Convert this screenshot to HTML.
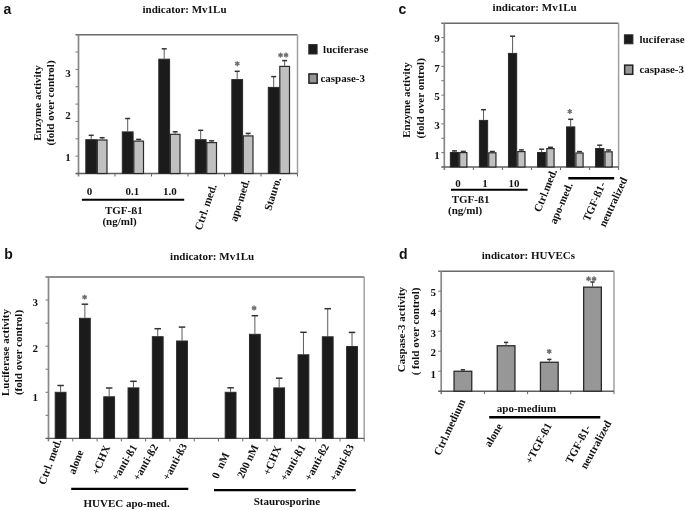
<!DOCTYPE html>
<html><head><meta charset="utf-8"><style>
html,body{margin:0;padding:0;background:#fff;width:685px;height:510px;overflow:hidden}
svg{display:block;filter:blur(0.4px)}

</style></head><body>
<svg width="685" height="510" viewBox="0 0 685 510" shape-rendering="auto">
<rect width="685" height="510" fill="#fff"/>
<line x1="75.50" y1="34.70" x2="297.50" y2="34.70" stroke="#6a6a6a" stroke-width="1.4"/>
<line x1="297.50" y1="34.70" x2="297.50" y2="173.50" stroke="#a0a0a0" stroke-width="1.5"/>
<line x1="78.50" y1="34.70" x2="78.50" y2="176.50" stroke="#888" stroke-width="1.7"/>
<line x1="75.50" y1="173.50" x2="297.50" y2="173.50" stroke="#5e5e5e" stroke-width="1.4"/>
<line x1="75.50" y1="52.05" x2="78.50" y2="52.05" stroke="#777" stroke-width="1"/>
<line x1="75.50" y1="69.40" x2="78.50" y2="69.40" stroke="#777" stroke-width="1"/>
<line x1="75.50" y1="86.75" x2="78.50" y2="86.75" stroke="#777" stroke-width="1"/>
<line x1="75.50" y1="104.10" x2="78.50" y2="104.10" stroke="#777" stroke-width="1"/>
<line x1="75.50" y1="121.45" x2="78.50" y2="121.45" stroke="#777" stroke-width="1"/>
<line x1="75.50" y1="138.80" x2="78.50" y2="138.80" stroke="#777" stroke-width="1"/>
<line x1="75.50" y1="156.15" x2="78.50" y2="156.15" stroke="#777" stroke-width="1"/>
<line x1="115.00" y1="173.50" x2="115.00" y2="176.50" stroke="#666" stroke-width="1"/>
<line x1="151.50" y1="173.50" x2="151.50" y2="176.50" stroke="#666" stroke-width="1"/>
<line x1="188.00" y1="173.50" x2="188.00" y2="176.50" stroke="#666" stroke-width="1"/>
<line x1="224.50" y1="173.50" x2="224.50" y2="176.50" stroke="#666" stroke-width="1"/>
<line x1="261.00" y1="173.50" x2="261.00" y2="176.50" stroke="#666" stroke-width="1"/>
<line x1="297.50" y1="173.50" x2="297.50" y2="176.50" stroke="#666" stroke-width="1"/>
<line x1="91.20" y1="135.30" x2="91.20" y2="139.20" stroke="#5a5a5a" stroke-width="1.0"/>
<line x1="88.70" y1="135.30" x2="93.70" y2="135.30" stroke="#333" stroke-width="1.5"/>
<line x1="102.15" y1="137.70" x2="102.15" y2="139.40" stroke="#5a5a5a" stroke-width="1.0"/>
<line x1="99.65" y1="137.70" x2="104.65" y2="137.70" stroke="#333" stroke-width="1.5"/>
<rect x="85.80" y="139.70" width="10.80" height="33.80" fill="#1b1b1b" stroke="#2a2a2a" stroke-width="1"/>
<rect x="97.30" y="140.00" width="9.70" height="33.50" fill="#c0c0c0" stroke="#2a2a2a" stroke-width="1.2"/>
<line x1="127.70" y1="118.50" x2="127.70" y2="131.40" stroke="#5a5a5a" stroke-width="1.0"/>
<line x1="125.20" y1="118.50" x2="130.20" y2="118.50" stroke="#333" stroke-width="1.5"/>
<line x1="138.65" y1="139.40" x2="138.65" y2="140.50" stroke="#5a5a5a" stroke-width="1.0"/>
<line x1="136.15" y1="139.40" x2="141.15" y2="139.40" stroke="#333" stroke-width="1.5"/>
<rect x="122.30" y="131.90" width="10.80" height="41.60" fill="#1b1b1b" stroke="#2a2a2a" stroke-width="1"/>
<rect x="133.80" y="141.10" width="9.70" height="32.40" fill="#c0c0c0" stroke="#2a2a2a" stroke-width="1.2"/>
<line x1="164.20" y1="48.80" x2="164.20" y2="58.70" stroke="#5a5a5a" stroke-width="1.0"/>
<line x1="161.70" y1="48.80" x2="166.70" y2="48.80" stroke="#333" stroke-width="1.5"/>
<line x1="175.15" y1="131.80" x2="175.15" y2="133.70" stroke="#5a5a5a" stroke-width="1.0"/>
<line x1="172.65" y1="131.80" x2="177.65" y2="131.80" stroke="#333" stroke-width="1.5"/>
<rect x="158.80" y="59.20" width="10.80" height="114.30" fill="#1b1b1b" stroke="#2a2a2a" stroke-width="1"/>
<rect x="170.30" y="134.30" width="9.70" height="39.20" fill="#c0c0c0" stroke="#2a2a2a" stroke-width="1.2"/>
<line x1="200.70" y1="130.30" x2="200.70" y2="139.20" stroke="#5a5a5a" stroke-width="1.0"/>
<line x1="198.20" y1="130.30" x2="203.20" y2="130.30" stroke="#333" stroke-width="1.5"/>
<line x1="211.65" y1="140.80" x2="211.65" y2="142.00" stroke="#5a5a5a" stroke-width="1.0"/>
<line x1="209.15" y1="140.80" x2="214.15" y2="140.80" stroke="#333" stroke-width="1.5"/>
<rect x="195.30" y="139.70" width="10.80" height="33.80" fill="#1b1b1b" stroke="#2a2a2a" stroke-width="1"/>
<rect x="206.80" y="142.60" width="9.70" height="30.90" fill="#c0c0c0" stroke="#2a2a2a" stroke-width="1.2"/>
<line x1="237.20" y1="71.30" x2="237.20" y2="79.10" stroke="#5a5a5a" stroke-width="1.0"/>
<line x1="234.70" y1="71.30" x2="239.70" y2="71.30" stroke="#333" stroke-width="1.5"/>
<line x1="248.15" y1="133.40" x2="248.15" y2="135.30" stroke="#5a5a5a" stroke-width="1.0"/>
<line x1="245.65" y1="133.40" x2="250.65" y2="133.40" stroke="#333" stroke-width="1.5"/>
<rect x="231.80" y="79.60" width="10.80" height="93.90" fill="#1b1b1b" stroke="#2a2a2a" stroke-width="1"/>
<rect x="243.30" y="135.90" width="9.70" height="37.60" fill="#c0c0c0" stroke="#2a2a2a" stroke-width="1.2"/>
<line x1="273.70" y1="76.60" x2="273.70" y2="86.90" stroke="#5a5a5a" stroke-width="1.0"/>
<line x1="271.20" y1="76.60" x2="276.20" y2="76.60" stroke="#333" stroke-width="1.5"/>
<line x1="284.65" y1="60.60" x2="284.65" y2="65.80" stroke="#5a5a5a" stroke-width="1.0"/>
<line x1="282.15" y1="60.60" x2="287.15" y2="60.60" stroke="#333" stroke-width="1.5"/>
<rect x="268.30" y="87.40" width="10.80" height="86.10" fill="#1b1b1b" stroke="#2a2a2a" stroke-width="1"/>
<rect x="279.80" y="66.40" width="9.70" height="107.10" fill="#c0c0c0" stroke="#2a2a2a" stroke-width="1.2"/>
<line x1="237.30" y1="61.20" x2="237.30" y2="66.20" stroke="#6e6e6e" stroke-width="1.4"/>
<line x1="235.13" y1="62.45" x2="239.47" y2="64.95" stroke="#6e6e6e" stroke-width="1.4"/>
<line x1="239.47" y1="62.45" x2="235.13" y2="64.95" stroke="#6e6e6e" stroke-width="1.4"/>
<line x1="280.55" y1="52.60" x2="280.55" y2="57.60" stroke="#6e6e6e" stroke-width="1.4"/>
<line x1="278.38" y1="53.85" x2="282.72" y2="56.35" stroke="#6e6e6e" stroke-width="1.4"/>
<line x1="282.72" y1="53.85" x2="278.38" y2="56.35" stroke="#6e6e6e" stroke-width="1.4"/>
<line x1="286.05" y1="52.60" x2="286.05" y2="57.60" stroke="#6e6e6e" stroke-width="1.4"/>
<line x1="283.88" y1="53.85" x2="288.22" y2="56.35" stroke="#6e6e6e" stroke-width="1.4"/>
<line x1="288.22" y1="53.85" x2="283.88" y2="56.35" stroke="#6e6e6e" stroke-width="1.4"/>
<text x="70.70" y="77.10" text-anchor="end" font-family="Liberation Serif" font-weight="bold" font-size="11" fill="#111">3</text>
<text x="70.70" y="119.20" text-anchor="end" font-family="Liberation Serif" font-weight="bold" font-size="11" fill="#111">2</text>
<text x="70.70" y="160.80" text-anchor="end" font-family="Liberation Serif" font-weight="bold" font-size="11" fill="#111">1</text>
<text x="142.50" y="12.80" text-anchor="start" font-family="Liberation Serif" font-weight="bold" font-size="11" fill="#111">indicator: Mv1Lu</text>
<text x="3.60" y="13.60" text-anchor="start" font-family="Liberation Sans" font-weight="bold" font-size="14" fill="#111">a</text>
<text x="41.10" y="103.00" text-anchor="middle" font-family="Liberation Serif" font-weight="bold" font-size="11" fill="#111" transform="rotate(-90 41.10 103.00)">Enzyme activity</text>
<text x="53.90" y="103.00" text-anchor="middle" font-family="Liberation Serif" font-weight="bold" font-size="11" fill="#111" transform="rotate(-90 53.90 103.00)">(fold over control)</text>
<text x="89.50" y="195.40" text-anchor="middle" font-family="Liberation Serif" font-weight="bold" font-size="11" fill="#111">0</text>
<text x="132.30" y="195.40" text-anchor="middle" font-family="Liberation Serif" font-weight="bold" font-size="11" fill="#111">0.1</text>
<text x="169.90" y="195.40" text-anchor="middle" font-family="Liberation Serif" font-weight="bold" font-size="11" fill="#111">1.0</text>
<line x1="81.90" y1="199.80" x2="184.20" y2="199.80" stroke="#000" stroke-width="2"/>
<text x="123.90" y="213.80" text-anchor="middle" font-family="Liberation Serif" font-weight="bold" font-size="11" fill="#111">TGF-ß1</text>
<text x="119.50" y="224.80" text-anchor="middle" font-family="Liberation Serif" font-weight="bold" font-size="11" fill="#111">(ng/ml)</text>
<rect x="308.80" y="44.60" width="8.30" height="9.40" fill="#1b1b1b" stroke="#2a2a2a" stroke-width="1"/>
<text x="323.10" y="52.60" text-anchor="start" font-family="Liberation Serif" font-weight="bold" font-size="11" fill="#111">luciferase</text>
<rect x="308.95" y="73.95" width="8.20" height="9.25" fill="#979797" stroke="#222" stroke-width="1.5"/>
<text x="320.40" y="82.10" text-anchor="start" font-family="Liberation Serif" font-weight="bold" font-size="11" fill="#111">caspase-3</text>
<text x="216.80" y="185.70" text-anchor="end" font-family="Liberation Serif" font-weight="bold" font-size="11" fill="#111" transform="rotate(-71.0 216.80 185.70)" class="rl">Ctrl. med.</text>
<text x="249.80" y="180.60" text-anchor="end" font-family="Liberation Serif" font-weight="bold" font-size="11" fill="#111" transform="rotate(-72.5 249.80 180.60)" class="rl">apo-med.</text>
<text x="281.25" y="178.50" text-anchor="end" font-family="Liberation Serif" font-weight="bold" font-size="11" fill="#111" transform="rotate(-72.5 281.25 178.50)" class="rl">Stauro.</text>
<line x1="441.30" y1="23.20" x2="618.60" y2="23.20" stroke="#6a6a6a" stroke-width="1.4"/>
<line x1="618.60" y1="23.20" x2="618.60" y2="167.00" stroke="#a0a0a0" stroke-width="1.5"/>
<line x1="444.30" y1="23.20" x2="444.30" y2="170.00" stroke="#888" stroke-width="1.7"/>
<line x1="441.30" y1="167.00" x2="618.60" y2="167.00" stroke="#5e5e5e" stroke-width="1.4"/>
<line x1="441.30" y1="37.58" x2="444.30" y2="37.58" stroke="#777" stroke-width="1"/>
<line x1="441.30" y1="51.96" x2="444.30" y2="51.96" stroke="#777" stroke-width="1"/>
<line x1="441.30" y1="66.34" x2="444.30" y2="66.34" stroke="#777" stroke-width="1"/>
<line x1="441.30" y1="80.72" x2="444.30" y2="80.72" stroke="#777" stroke-width="1"/>
<line x1="441.30" y1="95.10" x2="444.30" y2="95.10" stroke="#777" stroke-width="1"/>
<line x1="441.30" y1="109.48" x2="444.30" y2="109.48" stroke="#777" stroke-width="1"/>
<line x1="441.30" y1="123.86" x2="444.30" y2="123.86" stroke="#777" stroke-width="1"/>
<line x1="441.30" y1="138.24" x2="444.30" y2="138.24" stroke="#777" stroke-width="1"/>
<line x1="441.30" y1="152.62" x2="444.30" y2="152.62" stroke="#777" stroke-width="1"/>
<line x1="473.35" y1="167.00" x2="473.35" y2="170.00" stroke="#666" stroke-width="1"/>
<line x1="502.40" y1="167.00" x2="502.40" y2="170.00" stroke="#666" stroke-width="1"/>
<line x1="531.45" y1="167.00" x2="531.45" y2="170.00" stroke="#666" stroke-width="1"/>
<line x1="560.50" y1="167.00" x2="560.50" y2="170.00" stroke="#666" stroke-width="1"/>
<line x1="589.55" y1="167.00" x2="589.55" y2="170.00" stroke="#666" stroke-width="1"/>
<line x1="618.60" y1="167.00" x2="618.60" y2="170.00" stroke="#666" stroke-width="1"/>
<line x1="454.48" y1="150.90" x2="454.48" y2="152.00" stroke="#5a5a5a" stroke-width="1.0"/>
<line x1="451.98" y1="150.90" x2="456.98" y2="150.90" stroke="#333" stroke-width="1.5"/>
<line x1="463.30" y1="151.40" x2="463.30" y2="152.00" stroke="#5a5a5a" stroke-width="1.0"/>
<line x1="460.80" y1="151.40" x2="465.80" y2="151.40" stroke="#333" stroke-width="1.5"/>
<rect x="450.35" y="152.50" width="8.25" height="14.50" fill="#1b1b1b" stroke="#2a2a2a" stroke-width="1"/>
<rect x="459.70" y="152.60" width="7.20" height="14.40" fill="#c0c0c0" stroke="#2a2a2a" stroke-width="1.2"/>
<line x1="483.53" y1="109.70" x2="483.53" y2="119.90" stroke="#5a5a5a" stroke-width="1.0"/>
<line x1="481.03" y1="109.70" x2="486.03" y2="109.70" stroke="#333" stroke-width="1.5"/>
<line x1="492.35" y1="151.50" x2="492.35" y2="152.20" stroke="#5a5a5a" stroke-width="1.0"/>
<line x1="489.85" y1="151.50" x2="494.85" y2="151.50" stroke="#333" stroke-width="1.5"/>
<rect x="479.40" y="120.40" width="8.25" height="46.60" fill="#1b1b1b" stroke="#2a2a2a" stroke-width="1"/>
<rect x="488.75" y="152.80" width="7.20" height="14.20" fill="#c0c0c0" stroke="#2a2a2a" stroke-width="1.2"/>
<line x1="512.58" y1="36.20" x2="512.58" y2="52.90" stroke="#5a5a5a" stroke-width="1.0"/>
<line x1="510.08" y1="36.20" x2="515.08" y2="36.20" stroke="#333" stroke-width="1.5"/>
<line x1="521.40" y1="149.90" x2="521.40" y2="151.00" stroke="#5a5a5a" stroke-width="1.0"/>
<line x1="518.90" y1="149.90" x2="523.90" y2="149.90" stroke="#333" stroke-width="1.5"/>
<rect x="508.45" y="53.40" width="8.25" height="113.60" fill="#1b1b1b" stroke="#2a2a2a" stroke-width="1"/>
<rect x="517.80" y="151.60" width="7.20" height="15.40" fill="#c0c0c0" stroke="#2a2a2a" stroke-width="1.2"/>
<line x1="541.62" y1="149.20" x2="541.62" y2="152.00" stroke="#5a5a5a" stroke-width="1.0"/>
<line x1="539.12" y1="149.20" x2="544.12" y2="149.20" stroke="#333" stroke-width="1.5"/>
<line x1="550.45" y1="147.30" x2="550.45" y2="148.00" stroke="#5a5a5a" stroke-width="1.0"/>
<line x1="547.95" y1="147.30" x2="552.95" y2="147.30" stroke="#333" stroke-width="1.5"/>
<rect x="537.50" y="152.50" width="8.25" height="14.50" fill="#1b1b1b" stroke="#2a2a2a" stroke-width="1"/>
<rect x="546.85" y="148.60" width="7.20" height="18.40" fill="#c0c0c0" stroke="#2a2a2a" stroke-width="1.2"/>
<line x1="570.67" y1="119.30" x2="570.67" y2="126.40" stroke="#5a5a5a" stroke-width="1.0"/>
<line x1="568.17" y1="119.30" x2="573.17" y2="119.30" stroke="#333" stroke-width="1.5"/>
<line x1="579.50" y1="151.60" x2="579.50" y2="152.40" stroke="#5a5a5a" stroke-width="1.0"/>
<line x1="577.00" y1="151.60" x2="582.00" y2="151.60" stroke="#333" stroke-width="1.5"/>
<rect x="566.55" y="126.90" width="8.25" height="40.10" fill="#1b1b1b" stroke="#2a2a2a" stroke-width="1"/>
<rect x="575.90" y="153.00" width="7.20" height="14.00" fill="#c0c0c0" stroke="#2a2a2a" stroke-width="1.2"/>
<line x1="599.72" y1="145.20" x2="599.72" y2="148.00" stroke="#5a5a5a" stroke-width="1.0"/>
<line x1="597.22" y1="145.20" x2="602.22" y2="145.20" stroke="#333" stroke-width="1.5"/>
<line x1="608.55" y1="150.00" x2="608.55" y2="151.20" stroke="#5a5a5a" stroke-width="1.0"/>
<line x1="606.05" y1="150.00" x2="611.05" y2="150.00" stroke="#333" stroke-width="1.5"/>
<rect x="595.60" y="148.50" width="8.25" height="18.50" fill="#1b1b1b" stroke="#2a2a2a" stroke-width="1"/>
<rect x="604.95" y="151.80" width="7.20" height="15.20" fill="#c0c0c0" stroke="#2a2a2a" stroke-width="1.2"/>
<line x1="569.80" y1="109.00" x2="569.80" y2="114.00" stroke="#6e6e6e" stroke-width="1.4"/>
<line x1="567.63" y1="110.25" x2="571.97" y2="112.75" stroke="#6e6e6e" stroke-width="1.4"/>
<line x1="571.97" y1="110.25" x2="567.63" y2="112.75" stroke="#6e6e6e" stroke-width="1.4"/>
<text x="439.70" y="42.30" text-anchor="end" font-family="Liberation Serif" font-weight="bold" font-size="11" fill="#111">9</text>
<text x="439.70" y="72.40" text-anchor="end" font-family="Liberation Serif" font-weight="bold" font-size="11" fill="#111">7</text>
<text x="439.70" y="99.50" text-anchor="end" font-family="Liberation Serif" font-weight="bold" font-size="11" fill="#111">5</text>
<text x="439.70" y="128.90" text-anchor="end" font-family="Liberation Serif" font-weight="bold" font-size="11" fill="#111">3</text>
<text x="439.70" y="158.60" text-anchor="end" font-family="Liberation Serif" font-weight="bold" font-size="11" fill="#111">1</text>
<text x="492.60" y="11.40" text-anchor="start" font-family="Liberation Serif" font-weight="bold" font-size="11" fill="#111">indicator: Mv1Lu</text>
<text x="398.60" y="13.60" text-anchor="start" font-family="Liberation Sans" font-weight="bold" font-size="14" fill="#111">c</text>
<text x="409.80" y="100.00" text-anchor="middle" font-family="Liberation Serif" font-weight="bold" font-size="11" fill="#111" transform="rotate(-90 409.80 100.00)">Enzyme activity</text>
<text x="424.00" y="98.30" text-anchor="middle" font-family="Liberation Serif" font-weight="bold" font-size="11" fill="#111" transform="rotate(-90 424.00 98.30)">(fold over ontrol)</text>
<text x="457.90" y="186.90" text-anchor="middle" font-family="Liberation Serif" font-weight="bold" font-size="11" fill="#111">0</text>
<text x="484.90" y="186.90" text-anchor="middle" font-family="Liberation Serif" font-weight="bold" font-size="11" fill="#111">1</text>
<text x="514.10" y="186.90" text-anchor="middle" font-family="Liberation Serif" font-weight="bold" font-size="11" fill="#111">10</text>
<line x1="451.00" y1="189.80" x2="527.60" y2="189.80" stroke="#000" stroke-width="2"/>
<text x="451.70" y="203.20" text-anchor="start" font-family="Liberation Serif" font-weight="bold" font-size="11" fill="#111">TGF-ß1</text>
<text x="448.00" y="213.70" text-anchor="start" font-family="Liberation Serif" font-weight="bold" font-size="11" fill="#111">(ng/ml)</text>
<line x1="568.30" y1="178.20" x2="614.20" y2="178.20" stroke="#000" stroke-width="2.6"/>
<rect x="624.40" y="34.80" width="8.50" height="9.00" fill="#1b1b1b" stroke="#2a2a2a" stroke-width="1"/>
<text x="639.40" y="42.80" text-anchor="start" font-family="Liberation Serif" font-weight="bold" font-size="11" fill="#111">luciferase</text>
<rect x="624.65" y="65.15" width="8.10" height="9.15" fill="#979797" stroke="#222" stroke-width="1.5"/>
<text x="639.40" y="73.00" text-anchor="start" font-family="Liberation Serif" font-weight="bold" font-size="11" fill="#111">caspase-3</text>
<text x="557.25" y="170.85" text-anchor="end" font-family="Liberation Serif" font-weight="bold" font-size="11" fill="#111" transform="rotate(-68.0 557.25 170.85)" class="rl">Ctrl.med.</text>
<text x="573.05" y="184.55" text-anchor="end" font-family="Liberation Serif" font-weight="bold" font-size="11" fill="#111" transform="rotate(-67.0 573.05 184.55)" class="rl">apo-med.</text>
<text x="605.90" y="184.00" text-anchor="end" font-family="Liberation Serif" font-weight="bold" font-size="11" fill="#111" transform="rotate(-66.5 605.90 184.00)" class="rl">TGF-ß1-</text>
<text x="627.65" y="179.50" text-anchor="end" font-family="Liberation Serif" font-weight="bold" font-size="11" fill="#111" transform="rotate(-65.0 627.65 179.50)" class="rl">neutralized</text>
<line x1="45.50" y1="277.00" x2="364.20" y2="277.00" stroke="#6a6a6a" stroke-width="1.4"/>
<line x1="364.20" y1="277.00" x2="364.20" y2="438.40" stroke="#a0a0a0" stroke-width="1.5"/>
<line x1="48.50" y1="277.00" x2="48.50" y2="441.40" stroke="#888" stroke-width="1.7"/>
<line x1="45.50" y1="438.40" x2="364.20" y2="438.40" stroke="#5e5e5e" stroke-width="1.4"/>
<line x1="45.50" y1="300.06" x2="48.50" y2="300.06" stroke="#777" stroke-width="1"/>
<line x1="45.50" y1="323.11" x2="48.50" y2="323.11" stroke="#777" stroke-width="1"/>
<line x1="45.50" y1="346.17" x2="48.50" y2="346.17" stroke="#777" stroke-width="1"/>
<line x1="45.50" y1="369.23" x2="48.50" y2="369.23" stroke="#777" stroke-width="1"/>
<line x1="45.50" y1="392.29" x2="48.50" y2="392.29" stroke="#777" stroke-width="1"/>
<line x1="45.50" y1="415.34" x2="48.50" y2="415.34" stroke="#777" stroke-width="1"/>
<line x1="72.78" y1="438.40" x2="72.78" y2="441.40" stroke="#666" stroke-width="1"/>
<line x1="97.07" y1="438.40" x2="97.07" y2="441.40" stroke="#666" stroke-width="1"/>
<line x1="121.35" y1="438.40" x2="121.35" y2="441.40" stroke="#666" stroke-width="1"/>
<line x1="145.64" y1="438.40" x2="145.64" y2="441.40" stroke="#666" stroke-width="1"/>
<line x1="169.92" y1="438.40" x2="169.92" y2="441.40" stroke="#666" stroke-width="1"/>
<line x1="194.21" y1="438.40" x2="194.21" y2="441.40" stroke="#666" stroke-width="1"/>
<line x1="218.49" y1="438.40" x2="218.49" y2="441.40" stroke="#666" stroke-width="1"/>
<line x1="242.78" y1="438.40" x2="242.78" y2="441.40" stroke="#666" stroke-width="1"/>
<line x1="267.06" y1="438.40" x2="267.06" y2="441.40" stroke="#666" stroke-width="1"/>
<line x1="291.35" y1="438.40" x2="291.35" y2="441.40" stroke="#666" stroke-width="1"/>
<line x1="315.63" y1="438.40" x2="315.63" y2="441.40" stroke="#666" stroke-width="1"/>
<line x1="339.92" y1="438.40" x2="339.92" y2="441.40" stroke="#666" stroke-width="1"/>
<line x1="364.20" y1="438.40" x2="364.20" y2="441.40" stroke="#666" stroke-width="1"/>
<line x1="60.60" y1="385.50" x2="60.60" y2="391.80" stroke="#5a5a5a" stroke-width="1.0"/>
<line x1="57.35" y1="385.50" x2="63.85" y2="385.50" stroke="#333" stroke-width="1.5"/>
<rect x="55.20" y="392.30" width="10.80" height="46.10" fill="#1b1b1b" stroke="#2a2a2a" stroke-width="1"/>
<line x1="84.88" y1="304.20" x2="84.88" y2="317.80" stroke="#5a5a5a" stroke-width="1.0"/>
<line x1="81.63" y1="304.20" x2="88.13" y2="304.20" stroke="#333" stroke-width="1.5"/>
<rect x="79.48" y="318.30" width="10.80" height="120.10" fill="#1b1b1b" stroke="#2a2a2a" stroke-width="1"/>
<line x1="109.17" y1="388.00" x2="109.17" y2="396.30" stroke="#5a5a5a" stroke-width="1.0"/>
<line x1="105.92" y1="388.00" x2="112.42" y2="388.00" stroke="#333" stroke-width="1.5"/>
<rect x="103.77" y="396.80" width="10.80" height="41.60" fill="#1b1b1b" stroke="#2a2a2a" stroke-width="1"/>
<line x1="133.45" y1="381.30" x2="133.45" y2="387.40" stroke="#5a5a5a" stroke-width="1.0"/>
<line x1="130.20" y1="381.30" x2="136.70" y2="381.30" stroke="#333" stroke-width="1.5"/>
<rect x="128.05" y="387.90" width="10.80" height="50.50" fill="#1b1b1b" stroke="#2a2a2a" stroke-width="1"/>
<line x1="157.74" y1="328.70" x2="157.74" y2="336.20" stroke="#5a5a5a" stroke-width="1.0"/>
<line x1="154.49" y1="328.70" x2="160.99" y2="328.70" stroke="#333" stroke-width="1.5"/>
<rect x="152.34" y="336.70" width="10.80" height="101.70" fill="#1b1b1b" stroke="#2a2a2a" stroke-width="1"/>
<line x1="182.02" y1="327.10" x2="182.02" y2="340.50" stroke="#5a5a5a" stroke-width="1.0"/>
<line x1="178.77" y1="327.10" x2="185.27" y2="327.10" stroke="#333" stroke-width="1.5"/>
<rect x="176.62" y="341.00" width="10.80" height="97.40" fill="#1b1b1b" stroke="#2a2a2a" stroke-width="1"/>
<line x1="230.59" y1="387.80" x2="230.59" y2="391.80" stroke="#5a5a5a" stroke-width="1.0"/>
<line x1="227.34" y1="387.80" x2="233.84" y2="387.80" stroke="#333" stroke-width="1.5"/>
<rect x="225.19" y="392.30" width="10.80" height="46.10" fill="#1b1b1b" stroke="#2a2a2a" stroke-width="1"/>
<line x1="254.88" y1="315.70" x2="254.88" y2="333.80" stroke="#5a5a5a" stroke-width="1.0"/>
<line x1="251.63" y1="315.70" x2="258.13" y2="315.70" stroke="#333" stroke-width="1.5"/>
<rect x="249.48" y="334.30" width="10.80" height="104.10" fill="#1b1b1b" stroke="#2a2a2a" stroke-width="1"/>
<line x1="279.16" y1="378.20" x2="279.16" y2="387.40" stroke="#5a5a5a" stroke-width="1.0"/>
<line x1="275.91" y1="378.20" x2="282.41" y2="378.20" stroke="#333" stroke-width="1.5"/>
<rect x="273.76" y="387.90" width="10.80" height="50.50" fill="#1b1b1b" stroke="#2a2a2a" stroke-width="1"/>
<line x1="303.45" y1="332.30" x2="303.45" y2="354.30" stroke="#5a5a5a" stroke-width="1.0"/>
<line x1="300.20" y1="332.30" x2="306.70" y2="332.30" stroke="#333" stroke-width="1.5"/>
<rect x="298.05" y="354.80" width="10.80" height="83.60" fill="#1b1b1b" stroke="#2a2a2a" stroke-width="1"/>
<line x1="327.73" y1="308.70" x2="327.73" y2="336.30" stroke="#5a5a5a" stroke-width="1.0"/>
<line x1="324.48" y1="308.70" x2="330.98" y2="308.70" stroke="#333" stroke-width="1.5"/>
<rect x="322.33" y="336.80" width="10.80" height="101.60" fill="#1b1b1b" stroke="#2a2a2a" stroke-width="1"/>
<line x1="352.02" y1="332.40" x2="352.02" y2="346.00" stroke="#5a5a5a" stroke-width="1.0"/>
<line x1="348.77" y1="332.40" x2="355.27" y2="332.40" stroke="#333" stroke-width="1.5"/>
<rect x="346.62" y="346.50" width="10.80" height="91.90" fill="#1b1b1b" stroke="#2a2a2a" stroke-width="1"/>
<line x1="84.60" y1="294.70" x2="84.60" y2="299.70" stroke="#6e6e6e" stroke-width="1.4"/>
<line x1="82.43" y1="295.95" x2="86.77" y2="298.45" stroke="#6e6e6e" stroke-width="1.4"/>
<line x1="86.77" y1="295.95" x2="82.43" y2="298.45" stroke="#6e6e6e" stroke-width="1.4"/>
<line x1="254.10" y1="305.60" x2="254.10" y2="310.60" stroke="#6e6e6e" stroke-width="1.4"/>
<line x1="251.93" y1="306.85" x2="256.27" y2="309.35" stroke="#6e6e6e" stroke-width="1.4"/>
<line x1="256.27" y1="306.85" x2="251.93" y2="309.35" stroke="#6e6e6e" stroke-width="1.4"/>
<text x="38.00" y="305.80" text-anchor="end" font-family="Liberation Serif" font-weight="bold" font-size="11" fill="#111">3</text>
<text x="38.00" y="352.00" text-anchor="end" font-family="Liberation Serif" font-weight="bold" font-size="11" fill="#111">2</text>
<text x="38.00" y="401.30" text-anchor="end" font-family="Liberation Serif" font-weight="bold" font-size="11" fill="#111">1</text>
<text x="170.10" y="259.90" text-anchor="start" font-family="Liberation Serif" font-weight="bold" font-size="11" fill="#111">indicator: Mv1Lu</text>
<text x="4.20" y="259.00" text-anchor="start" font-family="Liberation Sans" font-weight="bold" font-size="14" fill="#111">b</text>
<text x="9.40" y="352.50" text-anchor="middle" font-family="Liberation Serif" font-weight="bold" font-size="11" fill="#111" transform="rotate(-90 9.40 352.50)">Luciferase activity</text>
<text x="22.00" y="352.50" text-anchor="middle" font-family="Liberation Serif" font-weight="bold" font-size="11" fill="#111" transform="rotate(-90 22.00 352.50)">(fold over control)</text>
<line x1="71.20" y1="488.80" x2="188.30" y2="488.80" stroke="#000" stroke-width="2.2"/>
<line x1="214.00" y1="490.10" x2="355.70" y2="490.10" stroke="#000" stroke-width="2.2"/>
<text x="83.50" y="507.40" text-anchor="start" font-family="Liberation Serif" font-weight="bold" font-size="11" fill="#111">HUVEC apo-med.</text>
<text x="253.70" y="505.40" text-anchor="start" font-family="Liberation Serif" font-weight="bold" font-size="11" fill="#111">Staurosporine</text>
<text x="61.70" y="440.60" text-anchor="end" font-family="Liberation Serif" font-weight="bold" font-size="11" fill="#111" transform="rotate(-69.5 61.70 440.60)" class="rl">Ctrl. med.</text>
<text x="83.65" y="451.60" text-anchor="end" font-family="Liberation Serif" font-weight="bold" font-size="11" fill="#111" transform="rotate(-69.0 83.65 451.60)" class="rl">alone</text>
<text x="110.25" y="447.30" text-anchor="end" font-family="Liberation Serif" font-weight="bold" font-size="11" fill="#111" transform="rotate(-67.0 110.25 447.30)" class="rl">+CHX</text>
<text x="137.60" y="447.20" text-anchor="end" font-family="Liberation Serif" font-weight="bold" font-size="11" fill="#111" transform="rotate(-59.5 137.60 447.20)" class="rl">+anti-ß1</text>
<text x="158.60" y="446.85" text-anchor="end" font-family="Liberation Serif" font-weight="bold" font-size="11" fill="#111" transform="rotate(-60.0 158.60 446.85)" class="rl">+anti-ß2</text>
<text x="187.45" y="445.95" text-anchor="end" font-family="Liberation Serif" font-weight="bold" font-size="11" fill="#111" transform="rotate(-61.5 187.45 445.95)" class="rl">+anti-ß3</text>
<text x="229.60" y="454.50" text-anchor="end" font-family="Liberation Serif" font-weight="bold" font-size="11" fill="#111" transform="rotate(-65.0 229.60 454.50)" class="rl">0&#160; nM</text>
<text x="258.65" y="446.85" text-anchor="end" font-family="Liberation Serif" font-weight="bold" font-size="11" fill="#111" transform="rotate(-64.5 258.65 446.85)" class="rl">200 nM</text>
<text x="281.50" y="447.65" text-anchor="end" font-family="Liberation Serif" font-weight="bold" font-size="11" fill="#111" transform="rotate(-67.0 281.50 447.65)" class="rl">+CHX</text>
<text x="305.95" y="447.20" text-anchor="end" font-family="Liberation Serif" font-weight="bold" font-size="11" fill="#111" transform="rotate(-60.0 305.95 447.20)" class="rl">+anti-ß1</text>
<text x="329.25" y="446.35" text-anchor="end" font-family="Liberation Serif" font-weight="bold" font-size="11" fill="#111" transform="rotate(-62.0 329.25 446.35)" class="rl">+anti-ß2</text>
<text x="354.35" y="446.75" text-anchor="end" font-family="Liberation Serif" font-weight="bold" font-size="11" fill="#111" transform="rotate(-62.0 354.35 446.75)" class="rl">+anti-ß3</text>
<line x1="438.20" y1="271.20" x2="614.00" y2="271.20" stroke="#6a6a6a" stroke-width="1.4"/>
<line x1="614.00" y1="271.20" x2="614.00" y2="391.20" stroke="#a0a0a0" stroke-width="1.5"/>
<line x1="441.20" y1="271.20" x2="441.20" y2="394.20" stroke="#888" stroke-width="1.7"/>
<line x1="438.20" y1="391.20" x2="614.00" y2="391.20" stroke="#5e5e5e" stroke-width="1.4"/>
<line x1="438.20" y1="291.20" x2="441.20" y2="291.20" stroke="#777" stroke-width="1"/>
<line x1="438.20" y1="311.20" x2="441.20" y2="311.20" stroke="#777" stroke-width="1"/>
<line x1="438.20" y1="331.20" x2="441.20" y2="331.20" stroke="#777" stroke-width="1"/>
<line x1="438.20" y1="351.20" x2="441.20" y2="351.20" stroke="#777" stroke-width="1"/>
<line x1="438.20" y1="371.20" x2="441.20" y2="371.20" stroke="#777" stroke-width="1"/>
<line x1="484.40" y1="391.20" x2="484.40" y2="394.20" stroke="#666" stroke-width="1"/>
<line x1="527.60" y1="391.20" x2="527.60" y2="394.20" stroke="#666" stroke-width="1"/>
<line x1="570.80" y1="391.20" x2="570.80" y2="394.20" stroke="#666" stroke-width="1"/>
<line x1="614.00" y1="391.20" x2="614.00" y2="394.20" stroke="#666" stroke-width="1"/>
<line x1="462.90" y1="369.80" x2="462.90" y2="370.60" stroke="#5a5a5a" stroke-width="1.0"/>
<line x1="460.80" y1="369.80" x2="465.00" y2="369.80" stroke="#333" stroke-width="1.5"/>
<rect x="454.05" y="371.25" width="17.70" height="19.95" fill="#979797" stroke="#2a2a2a" stroke-width="1.3"/>
<line x1="506.10" y1="342.40" x2="506.10" y2="345.10" stroke="#5a5a5a" stroke-width="1.0"/>
<line x1="504.00" y1="342.40" x2="508.20" y2="342.40" stroke="#333" stroke-width="1.5"/>
<rect x="497.25" y="345.75" width="17.70" height="45.45" fill="#979797" stroke="#2a2a2a" stroke-width="1.3"/>
<line x1="549.30" y1="359.40" x2="549.30" y2="361.60" stroke="#5a5a5a" stroke-width="1.0"/>
<line x1="547.20" y1="359.40" x2="551.40" y2="359.40" stroke="#333" stroke-width="1.5"/>
<rect x="540.45" y="362.25" width="17.70" height="28.95" fill="#979797" stroke="#2a2a2a" stroke-width="1.3"/>
<line x1="592.50" y1="282.00" x2="592.50" y2="286.50" stroke="#5a5a5a" stroke-width="1.0"/>
<line x1="590.40" y1="282.00" x2="594.60" y2="282.00" stroke="#333" stroke-width="1.5"/>
<rect x="583.65" y="287.15" width="17.70" height="104.05" fill="#979797" stroke="#2a2a2a" stroke-width="1.3"/>
<line x1="549.20" y1="348.90" x2="549.20" y2="353.90" stroke="#6e6e6e" stroke-width="1.4"/>
<line x1="547.03" y1="350.15" x2="551.37" y2="352.65" stroke="#6e6e6e" stroke-width="1.4"/>
<line x1="551.37" y1="350.15" x2="547.03" y2="352.65" stroke="#6e6e6e" stroke-width="1.4"/>
<line x1="588.55" y1="276.30" x2="588.55" y2="281.30" stroke="#6e6e6e" stroke-width="1.4"/>
<line x1="586.38" y1="277.55" x2="590.72" y2="280.05" stroke="#6e6e6e" stroke-width="1.4"/>
<line x1="590.72" y1="277.55" x2="586.38" y2="280.05" stroke="#6e6e6e" stroke-width="1.4"/>
<line x1="594.05" y1="276.30" x2="594.05" y2="281.30" stroke="#6e6e6e" stroke-width="1.4"/>
<line x1="591.88" y1="277.55" x2="596.22" y2="280.05" stroke="#6e6e6e" stroke-width="1.4"/>
<line x1="596.22" y1="277.55" x2="591.88" y2="280.05" stroke="#6e6e6e" stroke-width="1.4"/>
<text x="435.90" y="295.80" text-anchor="end" font-family="Liberation Serif" font-weight="bold" font-size="11" fill="#111">5</text>
<text x="435.90" y="316.20" text-anchor="end" font-family="Liberation Serif" font-weight="bold" font-size="11" fill="#111">4</text>
<text x="435.90" y="336.90" text-anchor="end" font-family="Liberation Serif" font-weight="bold" font-size="11" fill="#111">3</text>
<text x="435.90" y="355.60" text-anchor="end" font-family="Liberation Serif" font-weight="bold" font-size="11" fill="#111">2</text>
<text x="435.90" y="377.70" text-anchor="end" font-family="Liberation Serif" font-weight="bold" font-size="11" fill="#111">1</text>
<text x="481.80" y="259.20" text-anchor="start" font-family="Liberation Serif" font-weight="bold" font-size="11" fill="#111">indicator: HUVECs</text>
<text x="399.10" y="259.00" text-anchor="start" font-family="Liberation Sans" font-weight="bold" font-size="14" fill="#111">d</text>
<text x="405.30" y="329.50" text-anchor="middle" font-family="Liberation Serif" font-weight="bold" font-size="11" fill="#111" transform="rotate(-90 405.30 329.50)">Caspase-3 activity</text>
<text x="418.80" y="331.40" text-anchor="middle" font-family="Liberation Serif" font-weight="bold" font-size="11" fill="#111" transform="rotate(-90 418.80 331.40)">( fold over control)</text>
<text x="496.80" y="411.60" text-anchor="start" font-family="Liberation Serif" font-weight="bold" font-size="11" fill="#111">apo-medium</text>
<line x1="489.20" y1="417.20" x2="600.30" y2="417.20" stroke="#000" stroke-width="2.5"/>
<text x="465.65" y="401.20" text-anchor="end" font-family="Liberation Serif" font-weight="bold" font-size="11" fill="#111" transform="rotate(-65.0 465.65 401.20)" class="rl">Ctrl.medium</text>
<text x="503.00" y="426.25" text-anchor="end" font-family="Liberation Serif" font-weight="bold" font-size="11" fill="#111" transform="rotate(-59.0 503.00 426.25)" class="rl">alone</text>
<text x="552.15" y="425.40" text-anchor="end" font-family="Liberation Serif" font-weight="bold" font-size="11" fill="#111" transform="rotate(-62.0 552.15 425.40)" class="rl">+TGF-ß1</text>
<text x="591.00" y="427.60" text-anchor="end" font-family="Liberation Serif" font-weight="bold" font-size="11" fill="#111" transform="rotate(-62.0 591.00 427.60)" class="rl">TGF-ß1-</text>
<text x="611.60" y="423.10" text-anchor="end" font-family="Liberation Serif" font-weight="bold" font-size="11" fill="#111" transform="rotate(-61.5 611.60 423.10)" class="rl">neutralized</text>
</svg>
</body></html>
